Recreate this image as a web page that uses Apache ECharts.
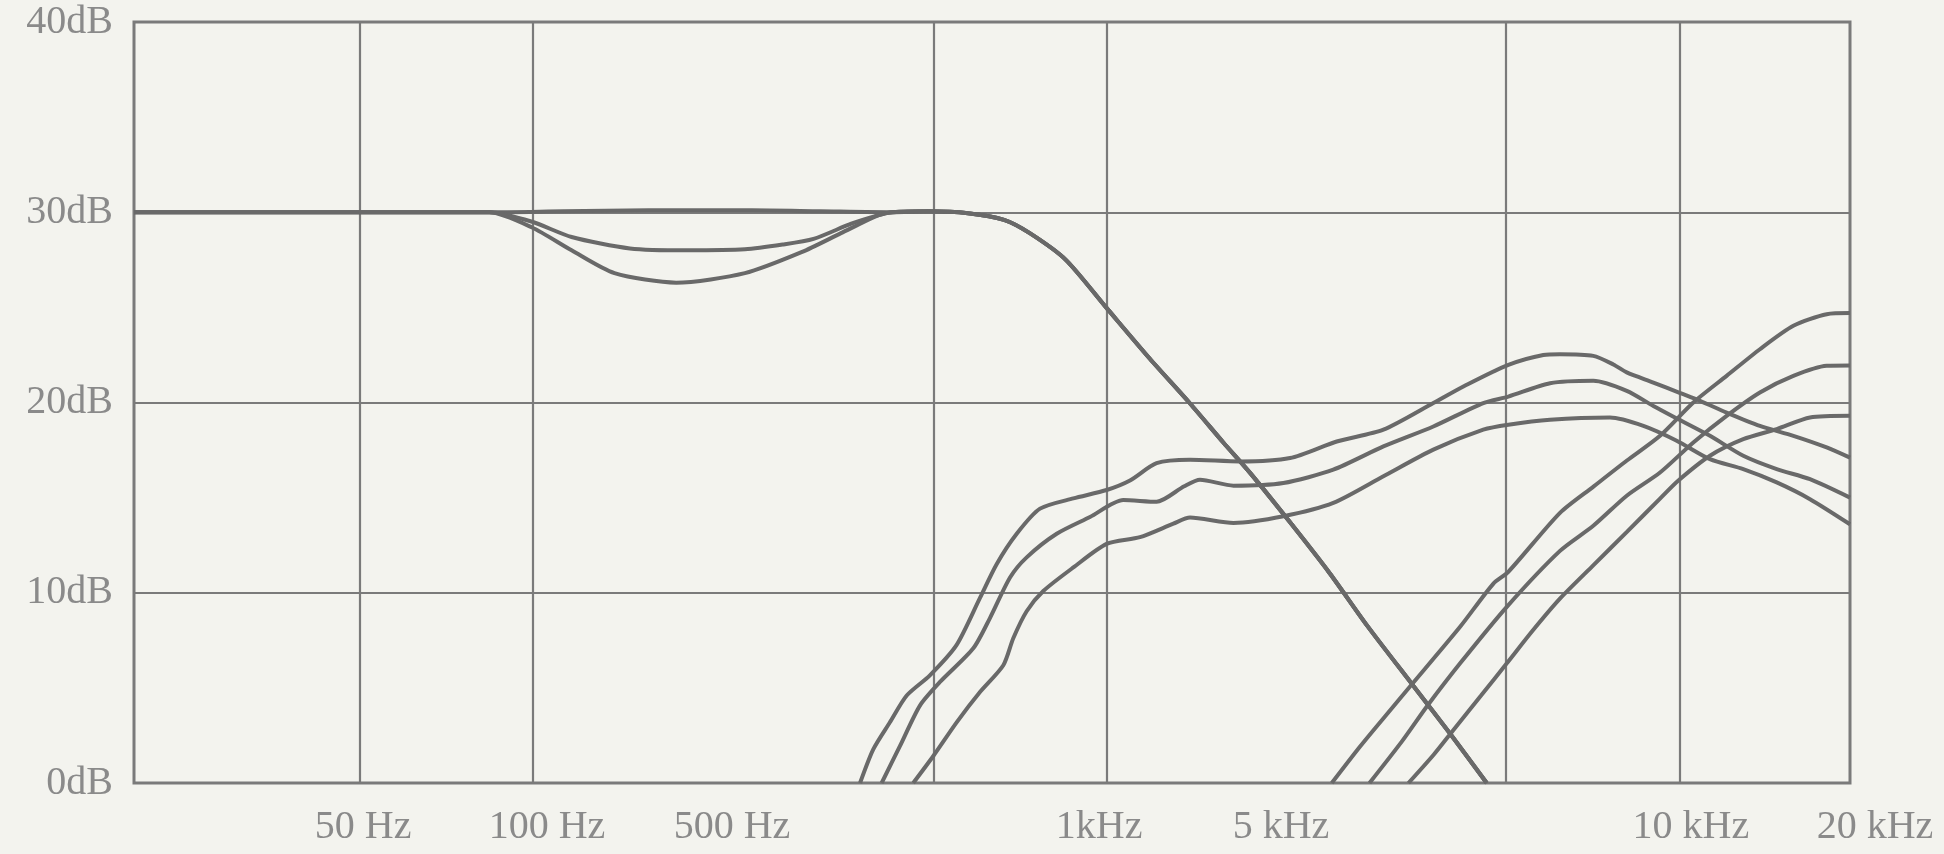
<!DOCTYPE html>
<html>
<head>
<meta charset="utf-8">
<script src="https://cdn.jsdelivr.net/npm/echarts/dist/echarts.min.js"></script>
<style>
  html, body { margin: 0; padding: 0; background: #f3f3ee; }
  #chart { width: 1944px; height: 854px; }
</style>
</head>
<body>
<div id="chart"></div>
<script>
// x is a position along the (non-linear) frequency axis: 0 = left edge, 100 = right edge
const xGridLines = [13.14, 23.25, 46.59, 56.70, 79.95, 90.09];
const freqLabels = ['50 Hz', '100 Hz', '500 Hz', '1kHz', '5 kHz', '10 kHz', '20 kHz'];
const freqLabelPos = [13.35, 24.07, 34.85, 56.24, 66.84, 90.73, 101.46];
const dbTicks = [0, 10, 20, 30, 40];

// low band (three variants, merge into a common roll-off)
const lowTop = [[0,30],[20.7,30],[25,30.05],[30,30.1],[36,30.1],[40,30.05]];
const lowMid = [[0,30],[20.7,30],[23.2,29.5],[25.5,28.7],[28.9,28.1],[32.2,28.0],[35.6,28.05],[37.8,28.3],[39.6,28.6],[41.8,29.4],[43.4,29.85]];
const lowBottom = [[0,30],[20.7,30],[23.2,29.2],[25.5,28.0],[28,26.8],[31.6,26.3],[35.6,26.8],[38.9,27.9],[41.2,28.9],[43.4,29.85]];
const rollOff = [[44.2,30],[46.3,30.05],[48.6,29.95],[50.7,29.6],[52.2,28.9],[54.3,27.5],[56.65,25.0],[59.2,22.3],[61.54,19.95],[63.48,17.9],[65.04,16.3],[67.37,13.7],[69.7,11.0],[71.84,8.3],[74.56,5.1],[76.69,2.6],[78.83,0]];

// mid band
const midTop = [[42.31,0],[43.08,1.77],[44.05,3.19],[45.03,4.6],[46.38,5.66],[47.94,7.26],[49.3,9.73],[50.27,11.5],[51.44,13.1],[52.8,14.42],[54.74,14.96],[56.68,15.4],[58.04,15.9],[59.59,16.81],[61.54,16.99],[64.45,16.9],[67.37,17.08],[70.09,17.95],[72.81,18.57],[75.72,19.97],[77.66,20.93],[80.09,21.98],[82.13,22.5],[83.1,22.54],[85.04,22.45],[86.21,22.0],[86.99,21.58],[88.54,21.05],[90.0,20.53],[91.26,20.09],[92.81,19.47],[94.75,18.77],[96.7,18.25],[98.64,17.64],[100,17.1]];
const midMid = [[43.57,0],[44.64,1.95],[45.8,4.07],[46.97,5.31],[48.91,7.08],[49.88,8.67],[51.05,10.8],[52.02,11.86],[53.77,13.1],[55.71,13.98],[57.65,14.87],[59.59,14.78],[61.2,15.6],[62.12,15.94],[64.07,15.63],[66.98,15.77],[69.89,16.47],[72.81,17.69],[75.72,18.74],[78.63,19.97],[80.09,20.31],[82.52,21.01],[85.04,21.14],[86.99,20.61],[88.54,19.82],[90.0,19.12],[91.84,18.25],[93.78,17.2],[95.73,16.5],[97.67,15.97],[100,15.0]];
const midBottom = [[45.41,0],[46.58,1.42],[47.94,3.19],[49.3,4.78],[50.66,6.19],[51.24,7.61],[52.02,9.03],[52.99,10.09],[54.74,11.33],[56.68,12.57],[58.62,12.92],[60.57,13.63],[61.54,13.95],[64.07,13.67],[66.98,14.02],[69.89,14.72],[72.81,16.12],[75.72,17.52],[78.63,18.57],[80.09,18.83],[82.52,19.09],[86.01,19.21],[87.96,18.77],[89.9,17.99],[91.84,17.02],[93.78,16.5],[95.73,15.8],[97.67,14.92],[100,13.6]];

// high band
const highTop = [[69.8,0],[71.45,1.92],[72.9,3.5],[74.36,5.07],[77.28,8.21],[79.22,10.48],[80.09,11.1],[83.1,14.2],[85.05,15.58],[87.0,16.95],[88.93,18.25],[90.87,20.0],[92.81,21.4],[94.75,22.8],[96.7,24.03],[98.64,24.64],[100,24.7]];
const highMid = [[72.0,0],[73.9,2.2],[75.34,4.02],[77.28,6.29],[80.0,9.26],[83.1,12.2],[85.04,13.52],[86.99,15.1],[88.93,16.32],[90.87,17.9],[92.81,19.3],[94.75,20.53],[96.7,21.4],[98.64,21.93],[100,21.95]];
const highBottom = [[74.27,0],[75.75,1.5],[76.89,2.79],[78.5,4.6],[80.0,6.29],[81.5,8.0],[83.11,9.7],[85.05,11.45],[87.0,13.2],[88.93,14.95],[90.0,15.9],[91.84,17.2],[93.78,18.07],[95.73,18.6],[97.67,19.21],[100,19.3]];

const FONT = "'Liberation Serif', 'DejaVu Serif', serif";
const LINE = '#696969';
const GRIDC = '#7a7a7a';
const TEXTC = '#8a8a8a';

const curves = [
  lowTop.concat(rollOff), lowMid.concat(rollOff), lowBottom.concat(rollOff),
  midTop, midMid, midBottom,
  highTop, highMid, highBottom
];

const chart = echarts.init(document.getElementById('chart'), null, { renderer: 'canvas' });
chart.setOption({
  backgroundColor: '#f3f3ee',
  animation: false,
  grid: [
    { left: 134, right: 94, top: 22, bottom: 71, show: true, borderColor: GRIDC, borderWidth: 3, outerBoundsMode: 'none', containLabel: false },
    { left: 134, right: 0, top: 22, bottom: 71, show: false, outerBoundsMode: 'none', containLabel: false }
  ],
  xAxis: [
    {
      gridIndex: 0, type: 'value', min: 0, max: 100,
      axisLine: { show: false },
      axisTick: { show: false, customValues: xGridLines },
      axisLabel: { show: false, customValues: xGridLines },
      splitLine: { show: true, lineStyle: { color: GRIDC, width: 2.2 } }
    },
    {
      gridIndex: 1, type: 'value', min: 0, max: 1810 / 17.16,
      axisLine: { show: false },
      axisTick: { show: false, customValues: freqLabelPos },
      splitLine: { show: false },
      axisLabel: {
        show: true, customValues: freqLabelPos, margin: 24,
        color: TEXTC, fontFamily: FONT, fontSize: 40,
        hideOverlap: false,
        formatter: function (v) {
          let best = 0, d = Infinity;
          freqLabelPos.forEach(function (p, i) { if (Math.abs(p - v) < d) { d = Math.abs(p - v); best = i; } });
          return freqLabels[best];
        }
      }
    }
  ],
  yAxis: [
    {
      gridIndex: 0, type: 'value', min: 0, max: 40, interval: 10,
      axisLine: { show: false }, axisTick: { show: false },
      axisLabel: { show: true, margin: 21, color: TEXTC, fontFamily: FONT, fontSize: 40, formatter: '{value}dB' },
      splitLine: { show: true, lineStyle: { color: GRIDC, width: 2.2 } }
    },
    {
      gridIndex: 1, type: 'value', min: 0, max: 40, show: false
    }
  ],
  series: curves.map(function (c) {
    return {
      type: 'line', xAxisIndex: 0, yAxisIndex: 0, data: c,
      showSymbol: false, symbol: 'none', smooth: 0.25, clip: true,
      lineStyle: { color: LINE, width: 4 }
    };
  })
});
</script>
</body>
</html>
